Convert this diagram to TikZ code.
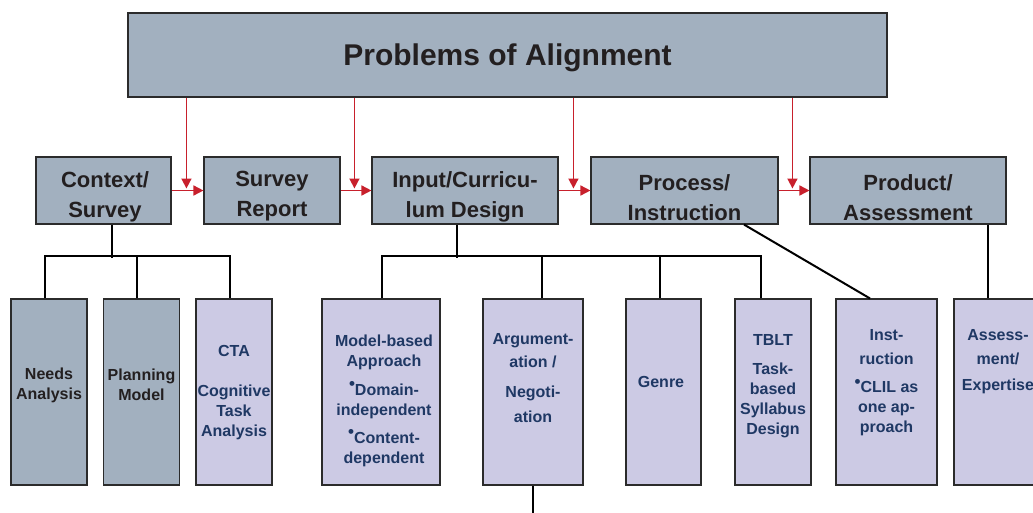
\documentclass[tikz,border=0pt]{standalone}
\usepackage{fontspec}
\setmainfont{Liberation Sans}
\usetikzlibrary{arrows.meta}
\definecolor{boxgray}{HTML}{A2B0BF}
\definecolor{boxlilac}{HTML}{CCCAE4}
\definecolor{inknavy}{HTML}{1F3864}
\definecolor{inkdark}{HTML}{231F20}
\definecolor{linkred}{HTML}{C8202C}
\definecolor{rim}{HTML}{2B2B2B}
\newcommand\bul{\raisebox{5.5pt}{\fontsize{17}{17}\selectfont •}}
\begin{document}
\begin{tikzpicture}[x=1pt,y=-1pt,
	headbox/.style={draw=rim,line width=1.1pt,fill=boxgray,minimum height=67pt,inner sep=0pt},
	headtext/.style={text=inkdark,align=center,inner sep=0pt,font=\fontsize{22}{30}\selectfont\bfseries},
	graybox/.style={draw=rim,line width=1.1pt,fill=boxgray,minimum height=186pt,inner sep=0pt},
	lilacbox/.style={draw=rim,line width=1.1pt,fill=boxlilac,minimum height=186pt,inner sep=0pt},
	darktext/.style={text=inkdark,align=center,inner sep=0pt,font=\fontsize{16}{20}\selectfont\bfseries},
	navytext/.style={text=inknavy,align=center,inner sep=0pt,font=\fontsize{16}{20}\selectfont\bfseries},
	link/.style={draw=black,line width=2pt},
	redlink/.style={draw=linkred,line width=1.6pt,-{Triangle[length=10pt,width=10pt]}}]
		\clip (0,0) rectangle (1033,512);
		\node[headbox,minimum width=759pt,minimum height=84pt,text=inkdark,text depth=0pt,
			font=\fontsize{30}{34}\selectfont\bfseries] (title) at (507.5,55) {Problems of Alignment};
		\node[headbox,minimum width=135pt] (ctx) at (103.5,190.5) {};
		\node[headtext] (ctxtxt) at (105,197) {Context/\\Survey};
		\node[headbox,minimum width=136pt] (rep) at (272,190.5) {};
		\node[headtext] (reptxt) at (272,196) {Survey\\Report};
		\node[headbox,minimum width=186pt] (inp) at (465,190.5) {};
		\node[headtext] (inptxt) at (465,197) {Input/Curricu-\\lum Design};
		\node[headbox,minimum width=187pt] (proc) at (684.5,190.5) {};
		\node[headtext] (proctxt) at (684.5,197.5) {Process/\\Instruction};
		\node[headbox,minimum width=196pt] (prod) at (908,190.5) {};
		\node[headtext] (prodtxt) at (908,197.5) {Product/\\Assessment};
		\draw[redlink] (ctx) -- (rep);
		\draw[redlink] (rep) -- (inp);
		\draw[redlink] (inp) -- (proc);
		\draw[redlink] (proc) -- (prod);
		\draw[redlink] ([xshift=-17pt]rep.west |- title.south) -- ([xshift=-17pt,yshift=2pt]rep.west);
		\draw[redlink] ([xshift=-17pt]inp.west |- title.south) -- ([xshift=-17pt,yshift=2pt]inp.west);
		\draw[redlink] ([xshift=-17pt]proc.west |- title.south) -- ([xshift=-17pt,yshift=2pt]proc.west);
		\draw[redlink] ([xshift=-17pt]prod.west |- title.south) -- ([xshift=-17pt,yshift=2pt]prod.west);
		\node[graybox,minimum width=76pt] (needs) at (49,392) {};
		\node[darktext] (needstxt) at (49,385) {Needs\\Analysis};
		\node[graybox,minimum width=76pt] (plan) at (141.5,392) {};
		\node[darktext] (plantxt) at (141.5,385) {Planning\\Model};
		\node[lilacbox,minimum width=76pt] (cta) at (234,392) {};
		\node[navytext] (ctatxt) at (234,393) {CTA\\[20pt]Cognitive\\Task\\Analysis};
		\node[lilacbox,minimum width=118pt] (model) at (381,392) {};
		\node[navytext] (modeltxt) at (384,400.5) {Model-based\\Approach\\[9pt]\bul Domain-\\independent\\[8pt]\bul Content-\\dependent};
		\node[lilacbox,minimum width=100pt] (argu) at (533,392) {};
		\node[navytext] (argutxt) at (533,378.5) {Argument-\\[3pt]ation /\\[10pt]Negoti-\\[5pt]ation};
		\node[lilacbox,minimum width=75pt] (genre) at (663.5,392) {};
		\node[navytext] (genretxt) at (661,382) {Genre};
		\node[lilacbox,minimum width=76pt] (tblt) at (773,392) {};
		\node[navytext] (tblttxt) at (773,386.5) {TBLT\\[9pt]Task-\\based\\Syllabus\\Design};
		\node[lilacbox,minimum width=101pt] (instr) at (886.5,392) {};
		\node[navytext] (instrtxt) at (886.5,383) {Inst-\\[4pt]ruction\\[8pt]\bul CLIL as\\one ap-\\proach};
		\node[lilacbox,minimum width=96pt] (assess) at (1002,392) {};
		\node[navytext] (assesstxt) at (998,362) {Assess-\\[4pt]ment/\\[6pt]Expertise};
		\draw[link] ([xshift=8.5pt]ctx.south) -- ++(0,33);
		\draw[link] ([xshift=-4pt]needs.north) -- ++(0,-42) -| ([xshift=-4pt]cta.north);
		\draw[link] ([xshift=-4.5pt]plan.north) -- ++(0,-42);
		\draw[link] ([xshift=-8pt]inp.south) -- ++(0,33);
		\draw[link] ([xshift=1pt]model.north) -- ++(0,-42) -| ([xshift=-12pt]tblt.north);
		\draw[link] ([xshift=8.5pt]argu.north) -- ++(0,-42);
		\draw[link] ([xshift=-4pt]genre.north) -- ++(0,-42);
		\draw[link] ([xshift=59.5pt]proc.south) -- ([xshift=-16.5pt]instr.north);
		\draw[link] ([xshift=80pt]prod.south) -- ([xshift=-14pt]assess.north);
		\draw[link] (argu.south) -- ++(0,30);
\end{tikzpicture}
\end{document}
